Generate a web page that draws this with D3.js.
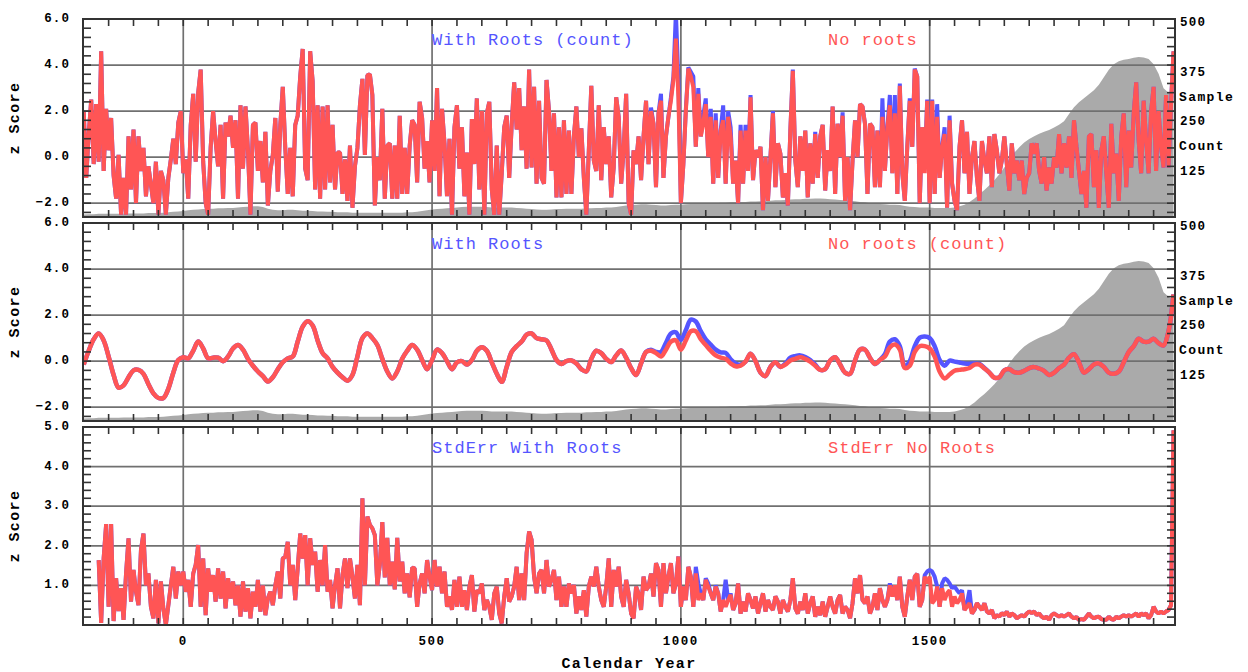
<!DOCTYPE html>
<html>
<head>
<meta charset="utf-8">
<script src="https://cdn.jsdelivr.net/npm/d3@7"></script>
<style>
  body { margin: 0; background: #fff; }
  svg text { font-family: "Liberation Mono", "DejaVu Sans Mono", monospace; }
</style>
</head>
<body>
<svg id="chart" width="1248" height="672"></svg>
<script>
// ---------------------------------------------------------------
// Data
// ---------------------------------------------------------------

// Tree-ring sample count (right axis), every 10 years from -200
const countStart = -200, countStep = 10;
const sampleCount = [
  6, 7, 7, 8, 8, 8, 8, 8, 9, 9,            // -200
  9, 9, 9, 10, 10, 10, 11, 12, 13, 14,     // -100
  15, 17, 18, 19, 20, 21, 21, 22, 22, 23,  // 0
  23, 24, 25, 26, 27, 27, 25, 21, 18, 17,  // 100
  17, 18, 18, 17, 16, 16, 15, 14, 14, 13,  // 200
  13, 12, 12, 12, 11, 11, 11, 11, 11, 11,  // 300
  11, 11, 11, 11, 11, 12, 12, 13, 15, 17,  // 400
  19, 20, 21, 22, 23, 24, 25, 26, 26, 26,  // 500
  26, 25, 24, 24, 24, 24, 24, 23, 22, 21,  // 600
  20, 19, 18, 18, 19, 20, 20, 21, 21, 21,  // 700
  21, 22, 22, 23, 23, 24, 24, 25, 27, 29,  // 800
  30, 31, 32, 32, 31, 30, 29, 29, 30, 31,  // 900
  31, 32, 33, 33, 34, 34, 35, 35, 36, 36,  // 1000
  37, 37, 38, 38, 39, 39, 40, 40, 41, 42,  // 1100
  42, 43, 44, 45, 45, 46, 46, 47, 47, 46,  // 1200
  45, 44, 43, 42, 41, 40, 38, 37, 35, 34,  // 1300
  33, 32, 31, 31, 30, 28, 26, 25, 24, 24,  // 1400
  24, 23, 23, 23, 23, 24, 27, 31, 38, 47,  // 1500
  58, 68, 80, 93, 108, 125, 145, 162, 176, 188,     // 1600
  197, 204, 210, 215, 220, 226, 233, 242, 260, 277, // 1700
  290, 300, 310, 320, 334, 353, 372, 386, 393, 397, // 1800
  399, 402, 404, 403, 399, 386, 362, 325, 314, 306  // 1900
];

// Annual z scores, sampled every 5 years from -200
const zStart = -200, zStep = 5;
const noRootsZ = [
  2.0, -0.9, 1.0, 2.5, -0.3, 2.3, -0.2, 4.6, -0.6, 2.1,          // -200
  0.3, 1.7, -0.8, -1.8, 0.1, -2.5, -0.9, -2.5, 0.9, -1.4,        // -150
  1.2, -2.0, 0.9, -0.6, 0.4, -1.7, -0.4, -1.2, -2.0, -0.2,       // -100
  -2.5, -0.6, -1.0, -2.5, -0.9, -0.1, 0.8, -0.3, 1.5, 2.0,       // -50
  -0.7, -0.1, -1.8, 1.4, 2.75, -0.2, 2.8, 3.8, -0.2, -2.0,       // 0
  -2.5, 0.4, 2.0, 0.7, -0.4, 1.4, -1.8, 1.5, 0.9, 1.8,           // 50
  0.4, 1.6, -1.8, 2.25, -0.5, 2.2, 0.3, -2.5, 1.4, 1.5,          // 100
  -0.6, 0.7, -1.1, 1.1, -2.1, -0.6, 0.1, 1.7, -1.5, 1.4,         // 150
  3.05, 0.4, -1.6, 0.4, -1.7, 1.4, 1.8, 3.5, 4.7, -0.5,          // 200
  -1.0, 4.6, 3.3, -1.4, 2.25, -1.8, 2.2, -1.4, 2.25, -1.1,       // 250
  1.4, -1.4, 0.2, 0.2, -1.6, -0.1, -1.9, 0.5, -2.2, -0.4,        // 300
  0.4, 2.25, 3.4, 0.1, 3.55, 3.6, 2.7, -2.1, 0.0, -1.0,          // 350
  2.1, -1.8, 0.5, 0.6, -1.8, 0.5, -1.8, 1.8, -1.6, 0.4,          // 400
  -1.6, 0.5, 1.6, 1.4, -1.1, 2.4, 1.7, -0.5, 0.7, -1.1,          // 450
  1.6, -0.6, 3.0, -1.7, 2.1, 0.6, -1.7, 0.8, -2.5, 1.3,          // 500
  2.25, -0.5, 1.3, -1.7, 0.2, -2.5, 1.65, -0.3, 2.55, -1.4,      // 550
  2.0, -2.5, 1.9, 2.4, -1.4, -2.5, 0.5, -2.5, -0.7, 1.3,         // 600
  1.8, -0.9, 1.4, 3.25, 1.2, 3.0, 0.3, 2.2, -0.5, 3.8,           // 650
  -0.45, 3.05, -1.15, 2.45, -0.9, -1.15, 3.35, 2.0, -0.6, 1.9,   // 700
  -1.75, 1.3, -1.75, 1.6, -1.6, 1.15, -1.6, 0.9, 2.2, 0.0,       // 750
  1.25, -0.9, -2.5, 0.3, 3.1, -0.15, -0.6, 2.25, -1.0, 1.3,      // 800
  -0.3, 0.9, -1.75, -0.45, 2.6, 1.75, -1.15, 0.3, 2.75, -2.0,    // 850
  -2.5, 0.3, -0.3, 0.9, -1.0, 0.9, 2.45, -0.3, 2.0, 1.45,        // 900
  -1.3, 1.9, 2.45, -0.9, 0.9, 1.75, 2.45, 3.35, 5.15, 2.6,       // 950
  -2.0, -0.3, 2.0, 3.85, 3.5, 3.05, 0.45, 2.75, 0.9, 1.45,       // 1000
  2.3, 0.0, 1.75, -1.15, 1.6, -0.9, 1.15, 1.6, -1.15, 1.75,      // 1050
  0.9, -1.15, -0.15, -2.0, 1.15, -1.15, 1.15, -0.6, 2.6, -1.0,   // 1100
  0.3, 0.0, 0.45, -2.3, 0.0, -1.9, 0.0, 1.9, -1.3, 0.6,          // 1150
  0.15, -1.75, -0.7, -2.1, 1.15, 3.75, -0.15, -1.3, 0.9, -0.6,   // 1200
  1.15, -1.75, 0.6, -1.15, 1.0, -0.9, 0.9, 1.4, -1.45, 0.3,      // 1250
  -0.6, 2.2, -1.6, 1.45, 0.0, 1.8, -1.9, 0.0, -2.3, -0.15,       // 1300
  1.6, 0.0, 2.3, 2.2, 1.45, -1.6, 1.45, 1.3, -1.3, 1.15,         // 1350
  -1.3, 1.75, -0.6, 1.3, 2.25, -0.7, 1.9, -1.6, 3.1, -0.7,       // 1400
  -1.9, 0.45, 2.45, 0.45, 3.8, 3.5, -2.0, 1.3, -0.7, 2.45,       // 1450
  -2.0, 2.45, -1.6, 1.75, -0.9, 0.45, 1.0, -2.2, 1.6, -1.15,     // 1500
  -1.9, -2.3, 0.45, 1.6, -0.7, 1.1, -1.6, 0.0, 0.7, -0.9,        // 1550
  -1.9, 0.7, -0.15, -0.7, 0.9, -1.3, 1.0, 0.3, -0.7, -0.15,      // 1600
  0.9, -0.3, -1.45, 0.6, -0.7, -0.15, -1.0, -0.15, -1.6, -0.9,   // 1650
  -0.7, 0.6, 0.15, 0.6, -0.6, -1.15, 0.0, -1.45, -0.45, -1.15,   // 1700
  0.0, -0.45, 1.0, -0.7, 0.6, -0.45, 0.9, -0.9, 1.6, 0.45,       // 1750
  -0.6, -1.6, -0.6, -2.2, 0.9, 1.0, -1.3, 0.3, -2.2, 0.3,        // 1800
  0.9, -0.7, -2.2, 1.45, -0.7, 0.15, -1.9, 0.9, 1.9, -1.3,       // 1850
  1.15, -0.45, 1.9, 3.25, 0.7, -0.7, 2.45, 0.7, -0.7, 2.0,       // 1900
  3.05, -0.6, 2.0, 0.45, -0.45, 2.7, -0.45, 2.3, 4.6             // 1950
];
const withRootsZ = [
  2.0, -0.9, 1.0, 2.5, -0.3, 2.3, -0.2, 4.6, -0.6, 2.1,          // -200
  0.3, 1.7, -0.8, -1.8, 0.1, -2.5, -0.9, -2.5, 0.9, -1.4,        // -150
  1.2, -2.0, 0.9, -0.6, 0.4, -1.7, -0.4, -1.2, -2.0, -0.2,       // -100
  -2.5, -0.6, -1.0, -2.5, -0.9, -0.1, 0.8, -0.3, 1.5, 2.0,       // -50
  -0.7, -0.1, -1.8, 1.4, 2.75, -0.2, 2.8, 3.8, -0.2, -2.0,       // 0
  -2.5, 0.4, 2.0, 0.7, -0.4, 1.4, -1.8, 1.5, 0.9, 1.8,           // 50
  0.4, 1.6, -1.8, 2.25, -0.5, 2.2, 0.3, -2.5, 1.4, 1.5,          // 100
  -0.6, 0.7, -1.1, 1.1, -2.1, -0.6, 0.1, 1.7, -1.5, 1.4,         // 150
  3.05, 0.4, -1.6, 0.4, -1.7, 1.4, 1.8, 3.5, 4.7, -0.5,          // 200
  -1.0, 4.6, 3.3, -1.4, 2.25, -1.8, 2.2, -1.4, 2.25, -1.1,       // 250
  1.4, -1.4, 0.2, 0.2, -1.6, -0.1, -1.9, 0.5, -2.2, -0.4,        // 300
  0.4, 2.25, 3.4, 0.1, 3.55, 3.6, 2.7, -2.1, 0.0, -1.0,          // 350
  2.1, -1.8, 0.5, 0.6, -1.8, 0.5, -1.8, 1.8, -1.6, 0.4,          // 400
  -1.6, 0.5, 1.6, 1.4, -1.1, 2.4, 1.7, -0.5, 0.7, -1.1,          // 450
  1.6, -0.6, 3.0, -1.7, 2.1, 0.6, -1.7, 0.8, -2.5, 1.3,          // 500
  2.25, -0.5, 1.3, -1.7, 0.2, -2.5, 1.65, -0.3, 2.55, -1.4,      // 550
  2.0, -2.5, 1.9, 2.4, -1.4, -2.5, 0.5, -2.5, -0.7, 1.3,         // 600
  1.8, -0.9, 1.4, 3.25, 1.2, 3.0, 0.3, 2.2, -0.5, 3.8,           // 650
  -0.45, 3.05, -1.15, 2.45, -0.9, -1.15, 3.35, 2.0, -0.6, 1.9,   // 700
  -1.75, 1.3, -1.75, 1.6, -1.6, 1.15, -1.6, 0.9, 2.2, 0.0,       // 750
  1.25, -0.9, -2.5, 0.3, 3.1, -0.15, -0.6, 2.25, -1.0, 1.3,      // 800
  -0.3, 0.9, -1.75, -0.45, 2.6, 1.75, -1.15, 0.3, 2.75, -2.0,    // 850
  -2.5, 0.3, -0.3, 0.9, -1.0, 0.9, 2.45, -0.3, 2.15, 1.45,       // 900
  -1.3, 1.9, 2.75, -0.9, 0.9, 1.75, 2.6, 3.5, 6.3, 3.3,          // 950
  -2.0, -0.3, 2.1, 3.9, 3.7, 3.5, 0.45, 3.0, 0.9, 1.8,           // 1000
  2.55, 0.0, 2.1, -1.15, 1.9, -0.9, 1.15, 2.25, -1.15, 2.0,      // 1050
  1.3, -1.15, -0.15, -2.0, 1.4, -1.15, 1.4, -0.6, 2.7, -1.0,     // 1100
  0.3, 0.0, 0.45, -2.3, 0.0, -1.9, 0.0, 2.0, -1.3, 0.6,          // 1150
  0.15, -1.75, -0.7, -2.1, 1.15, 3.8, -0.15, -1.3, 0.9, -0.6,    // 1200
  1.15, -1.75, 0.6, -1.15, 1.1, -0.9, 0.9, 1.4, -1.45, 0.3,      // 1250
  -0.6, 2.2, -1.6, 1.45, 0.0, 1.95, -1.9, 0.0, -2.3, -0.15,      // 1300
  1.6, 0.0, 2.3, 2.2, 1.45, -1.6, 1.45, 1.3, -1.3, 1.15,         // 1350
  -1.3, 2.55, -0.6, 1.3, 2.7, -0.7, 2.7, -1.6, 3.2, -0.7,        // 1400
  -1.9, 0.45, 2.55, 0.45, 3.85, 3.5, -2.0, 1.3, -0.4, 2.5,       // 1450
  -2.0, 2.5, -1.6, 2.3, -0.9, 0.45, 1.3, -2.2, 1.8, -1.15,       // 1500
  -1.9, -2.3, 0.45, 1.6, -0.7, 1.1, -1.6, 0.0, 0.7, -0.9,        // 1550
  -1.9, 0.7, -0.15, -0.7, 0.9, -1.3, 1.0, 0.3, -0.7, -0.15,      // 1600
  0.9, -0.3, -1.45, 0.6, -0.7, -0.15, -1.0, -0.15, -1.6, -0.9,   // 1650
  -0.7, 0.6, 0.15, 0.6, -0.6, -1.15, 0.0, -1.45, -0.45, -1.15,   // 1700
  0.0, -0.45, 1.0, -0.7, 0.6, -0.45, 0.9, -0.9, 1.6, 0.45,       // 1750
  -0.6, -1.6, -0.6, -2.2, 0.9, 1.0, -1.3, 0.3, -2.2, 0.3,        // 1800
  0.9, -0.7, -2.2, 1.45, -0.7, 0.15, -1.9, 0.9, 1.9, -1.3,       // 1850
  1.15, -0.45, 1.9, 3.25, 0.7, -0.7, 2.45, 0.7, -0.7, 2.0,       // 1900
  3.05, -0.6, 2.0, 0.45, -0.45, 2.7, -0.45, 2.3, 4.6             // 1950
];

// Low-pass filtered z scores, every 10 years from -200
const smoothStart = -200, smoothStep = 10;
const noRootsSmooth = [
  -0.15, 0.45, 0.95, 1.2, 0.9, 0.2, -0.6, -1.15, -1.05, -0.7,      // -200
  -0.4, -0.38, -0.55, -1.0, -1.4, -1.6, -1.6, -1.2, -0.5, 0.05,    // -100
  0.17, 0.12, 0.45, 0.85, 0.55, 0.12, 0.15, 0.15, 0.0, 0.2,        // 0
  0.55, 0.7, 0.5, 0.1, -0.2, -0.45, -0.65, -0.88, -0.7, -0.35,     // 100
  -0.05, 0.12, 0.2, 0.85, 1.5, 1.73, 1.55, 0.9, 0.35, 0.12,        // 200
  -0.25, -0.5, -0.7, -0.85, -0.6, 0.2, 1.0, 1.2, 1.0, 0.7,         // 300
  0.1, -0.45, -0.75, -0.45, 0.1, 0.45, 0.7, 0.5, 0.05, -0.35,      // 400
  0.05, 0.5, 0.35, 0.0, -0.35, -0.05, 0.0, -0.15, 0.05, 0.45,      // 500
  0.6, 0.45, -0.05, -0.55, -0.9, -0.25, 0.4, 0.65, 0.85, 1.15,     // 600
  1.2, 1.0, 0.95, 0.9, 0.5, 0.05, -0.12, 0.0, 0.03, -0.1,          // 700
  -0.35, -0.45, 0.1, 0.45, 0.35, 0.1, -0.04, 0.25, 0.46, 0.15,     // 800
  -0.3, -0.6, -0.1, 0.4, 0.45, 0.35, 0.2, 0.5, 0.85, 0.9,          // 900
  0.5, 0.9, 1.3, 1.3, 0.95, 0.7, 0.45, 0.25, 0.15, 0.1,            // 1000
  -0.1, -0.22, -0.2, -0.02, 0.32, 0.0, -0.5, -0.65, -0.25, -0.05,  // 1100
  -0.25, -0.15, 0.03, 0.1, 0.17, 0.1, -0.02, -0.2, -0.38, -0.35,   // 1200
  0.03, 0.17, -0.15, -0.5, -0.55, 0.03, 0.5, 0.5, 0.15, -0.12,     // 1300
  0.05, 0.2, 0.6, 0.72, 0.5, -0.3, -0.2, 0.4, 0.65, 0.65,          // 1400
  0.55, 0.2, -0.45, -0.75, -0.58, -0.42, -0.38, -0.35, -0.3, -0.15, // 1500
  -0.15, -0.32, -0.5, -0.72, -0.7, -0.4, -0.35, -0.48, -0.5, -0.42, // 1600
  -0.3, -0.26, -0.32, -0.42, -0.6, -0.5, -0.3, -0.15, 0.15, 0.3,   // 1700
  -0.05, -0.5, -0.35, -0.15, -0.1, -0.25, -0.5, -0.55, -0.45, -0.05, // 1800
  0.4, 0.65, 0.97, 0.85, 0.85, 0.97, 0.78, 0.68, 1.3, 2.9          // 1900
];
const withRootsSmooth = [
  -0.15, 0.45, 0.95, 1.2, 0.9, 0.2, -0.6, -1.15, -1.05, -0.7,      // -200
  -0.4, -0.38, -0.55, -1.0, -1.4, -1.6, -1.6, -1.2, -0.5, 0.05,    // -100
  0.17, 0.12, 0.45, 0.85, 0.55, 0.12, 0.15, 0.15, 0.0, 0.2,        // 0
  0.55, 0.7, 0.5, 0.1, -0.2, -0.45, -0.65, -0.88, -0.7, -0.35,     // 100
  -0.05, 0.12, 0.2, 0.85, 1.5, 1.73, 1.55, 0.9, 0.35, 0.12,        // 200
  -0.25, -0.5, -0.7, -0.85, -0.6, 0.2, 1.0, 1.2, 1.0, 0.7,         // 300
  0.1, -0.45, -0.75, -0.45, 0.1, 0.45, 0.7, 0.5, 0.05, -0.35,      // 400
  0.05, 0.5, 0.35, 0.0, -0.35, -0.05, 0.0, -0.15, 0.05, 0.45,      // 500
  0.6, 0.45, -0.05, -0.55, -0.9, -0.25, 0.4, 0.65, 0.85, 1.15,     // 600
  1.2, 1.0, 0.95, 0.9, 0.5, 0.05, -0.12, 0.0, 0.03, -0.1,          // 700
  -0.35, -0.45, 0.1, 0.45, 0.35, 0.1, -0.04, 0.25, 0.46, 0.15,     // 800
  -0.3, -0.6, -0.1, 0.4, 0.5, 0.4, 0.4, 0.8, 1.2, 1.25,            // 900
  0.92, 1.35, 1.8, 1.72, 1.3, 0.95, 0.72, 0.5, 0.38, 0.36,         // 1000
  0.08, -0.1, -0.15, -0.02, 0.32, 0.0, -0.5, -0.65, -0.25, -0.05,  // 1100
  -0.25, -0.1, 0.15, 0.22, 0.25, 0.18, 0.05, -0.15, -0.38, -0.35,  // 1200
  0.03, 0.17, -0.15, -0.5, -0.55, 0.03, 0.5, 0.5, 0.15, -0.12,     // 1300
  0.05, 0.3, 0.85, 0.95, 0.65, -0.25, 0.0, 0.65, 1.02, 1.07,       // 1400
  1.0, 0.65, 0.05, -0.2, 0.02, -0.02, -0.06, -0.1, -0.11, -0.1,    // 1500
  -0.12, -0.3, -0.5, -0.72, -0.7, -0.4, -0.35, -0.48, -0.5, -0.42, // 1600
  -0.3, -0.26, -0.32, -0.42, -0.6, -0.5, -0.3, -0.15, 0.15, 0.3,   // 1700
  -0.05, -0.5, -0.35, -0.15, -0.1, -0.25, -0.5, -0.55, -0.45, -0.05, // 1800
  0.4, 0.65, 0.97, 0.85, 0.85, 0.97, 0.78, 0.68, 1.3, 2.9          // 1900
];

// Standard error of the annual chronology, every 5 years from -170
const seStart = -170, seStep = 5;
const stderrNoRoots = [
  1.64, 0.05, 1.68, 2.55,                                          // -170
  0.46, 2.55, 0.1, 1.18, 0.35, 0.93, 0.13, 1.3, 2.19, 0.59,        // -150
  1.39, 0.84, 0.5, 1.9, 2.31, 1.0, 1.3, 0.46, 0.17, 1.14,          // -100
  0.04, 1.1, 0.42, 0.0, 0.5, 1.0, 1.47, 0.67, 1.35, 1.0,           // -50
  1.35, 0.84, 1.14, 0.46, 1.3, 1.52, 2.02, 0.46, 1.68, 0.25,       // 0
  1.43, 0.84, 1.26, 0.59, 1.43, 0.67, 1.35, 0.42, 1.18, 0.67,      // 50
  1.1, 0.5, 1.0, 0.21, 1.1, 0.34, 0.93, 0.17, 0.84, 0.46,          // 100
  1.14, 0.34, 1.0, 0.25, 0.67, 0.84, 0.5, 1.0, 1.35, 0.67,         // 150
  1.68, 1.72, 2.1, 1.0, 1.52, 0.63, 1.43, 2.31, 1.68, 2.27,        // 200
  1.0, 2.19, 1.52, 1.85, 0.84, 1.64, 1.0, 2.02, 0.84, 1.14,        // 250
  0.42, 1.0, 1.43, 0.42, 1.26, 1.68, 0.93, 1.68, 1.22, 0.67,       // 300
  1.52, 0.5, 3.2, 1.0, 2.74, 2.53, 2.44, 2.27, 1.0, 1.52,          // 350
  2.6, 1.2, 2.2, 1.0, 1.6, 0.9, 2.2, 1.1, 1.6, 0.8,                // 400
  1.3, 0.7, 1.45, 1.43, 0.46, 1.05, 1.3, 0.8, 1.64, 1.22,          // 450
  0.88, 1.64, 0.97, 1.47, 0.8, 1.35, 0.46, 0.72, 0.38, 1.14,       // 500
  0.46, 1.22, 0.46, 0.88, 0.38, 0.97, 1.26, 0.34, 0.88, 0.8,       // 550
  1.05, 0.38, 0.63, 0.46, 0.13, 0.8, 0.97, 0.29, 0.04, 0.72,       // 600
  1.18, 0.59, 0.72, 0.97, 1.47, 0.63, 1.3, 0.63, 1.81, 2.36,       // 650
  2.15, 1.22, 0.8, 1.3, 1.39, 0.8, 1.64, 0.97, 1.14, 1.39,         // 700
  0.63, 1.22, 0.46, 0.97, 0.46, 1.05, 0.8, 1.01, 0.29, 0.72,       // 750
  0.38, 0.88, 0.21, 0.97, 1.22, 0.97, 1.47, 0.97, 0.63, 0.46,      // 800
  0.97, 1.68, 0.46, 1.39, 0.97, 1.47, 0.72, 0.46, 1.14, 0.8,       // 850
  0.29, 0.17, 0.97, 0.8, 0.38, 1.22, 0.88, 0.97, 1.3, 0.72,        // 900
  1.56, 1.39, 0.46, 1.56, 0.8, 1.22, 1.56, 0.8, 1.05, 1.73,        // 950
  0.46, 0.97, 0.63, 1.47, 1.22, 0.46, 1.3, 0.63, 0.8, 0.63,        // 1000
  1.14, 0.97, 0.8, 0.63, 0.97, 0.8, 0.34, 0.63, 0.46, 0.63,        // 1050
  0.76, 0.38, 0.55, 1.05, 0.29, 0.59, 0.34, 0.8, 0.63, 0.42,       // 1100
  0.72, 0.29, 0.55, 0.8, 0.34, 0.63, 0.46, 0.38, 0.72, 0.59,       // 1150
  0.29, 0.63, 0.46, 0.34, 0.63, 1.18, 0.42, 0.29, 0.59, 0.38,      // 1200
  0.8, 0.29, 0.55, 0.72, 0.21, 0.46, 0.25, 0.59, 0.21, 0.46,       // 1250
  0.72, 0.46, 0.29, 0.63, 0.76, 0.29, 0.46, 0.38, 0.17, 0.55,      // 1300
  1.18, 0.8, 1.26, 0.63, 0.55, 0.72, 0.29, 0.46, 0.8, 0.38,        // 1350
  0.93, 0.63, 0.46, 0.63, 1.0, 0.72, 1.0, 0.63, 1.22, 0.46,        // 1400
  0.21, 0.72, 1.14, 0.63, 1.22, 1.29, 0.46, 0.63, 1.22, 1.05,      // 1450
  1.22, 0.55, 0.63, 0.97, 0.46, 0.93, 0.63, 0.8, 0.88, 0.46,       // 1500
  0.72, 0.55, 0.63, 0.8, 0.38, 0.46, 0.55, 0.29, 0.38, 0.55,       // 1550
  0.46, 0.38, 0.55, 0.34, 0.29, 0.38, 0.17, 0.25, 0.21, 0.3,       // 1600
  0.25, 0.34, 0.21, 0.29, 0.25, 0.17, 0.21, 0.25, 0.21, 0.29,      // 1650
  0.34, 0.3, 0.34, 0.25, 0.29, 0.21, 0.17, 0.21, 0.13, 0.25,       // 1700
  0.29, 0.25, 0.21, 0.25, 0.21, 0.25, 0.29, 0.21, 0.17, 0.2,       // 1750
  0.13, 0.15, 0.13, 0.21, 0.29, 0.21, 0.17, 0.2, 0.21, 0.15,       // 1800
  0.13, 0.13, 0.21, 0.15, 0.13, 0.21, 0.17, 0.21, 0.25, 0.21,      // 1850
  0.25, 0.21, 0.25, 0.29, 0.21, 0.29, 0.25, 0.29, 0.17, 0.25,      // 1900
  0.46, 0.34, 0.29, 0.34, 0.29, 0.34, 0.38, 0.5, 4.92              // 1950
];
const stderrWithRoots = [
  1.64, 0.05, 1.68, 2.55,                                          // -170
  0.46, 2.55, 0.1, 1.18, 0.35, 0.93, 0.13, 1.3, 2.19, 0.59,        // -150
  1.39, 0.84, 0.5, 1.9, 2.31, 1.0, 1.3, 0.46, 0.17, 1.14,          // -100
  0.04, 1.1, 0.42, 0.0, 0.5, 1.0, 1.47, 0.67, 1.35, 1.0,           // -50
  1.35, 0.84, 1.14, 0.46, 1.3, 1.52, 2.02, 0.46, 1.68, 0.25,       // 0
  1.43, 0.84, 1.26, 0.59, 1.43, 0.67, 1.35, 0.42, 1.18, 0.67,      // 50
  1.1, 0.5, 1.0, 0.21, 1.1, 0.34, 0.93, 0.17, 0.84, 0.46,          // 100
  1.14, 0.34, 1.0, 0.25, 0.67, 0.84, 0.5, 1.0, 1.35, 0.67,         // 150
  1.68, 1.72, 2.1, 1.0, 1.52, 0.63, 1.43, 2.31, 1.68, 2.27,        // 200
  1.0, 2.19, 1.52, 1.85, 0.84, 1.64, 1.0, 2.02, 0.84, 1.14,        // 250
  0.42, 1.0, 1.43, 0.42, 1.26, 1.68, 0.93, 1.68, 1.22, 0.67,       // 300
  1.52, 0.5, 3.2, 1.0, 2.74, 2.53, 2.44, 2.27, 1.0, 1.52,          // 350
  2.6, 1.2, 2.2, 1.0, 1.6, 0.9, 2.2, 1.1, 1.6, 0.8,                // 400
  1.3, 0.7, 1.45, 1.43, 0.46, 1.05, 1.3, 0.8, 1.64, 1.22,          // 450
  0.88, 1.64, 0.97, 1.47, 0.8, 1.35, 0.46, 0.72, 0.38, 1.14,       // 500
  0.46, 1.22, 0.46, 0.88, 0.38, 0.97, 1.26, 0.34, 0.88, 0.8,       // 550
  1.05, 0.38, 0.63, 0.46, 0.13, 0.8, 0.97, 0.29, 0.04, 0.72,       // 600
  1.18, 0.59, 0.72, 0.97, 1.47, 0.63, 1.3, 0.63, 1.81, 2.36,       // 650
  2.15, 1.22, 0.8, 1.3, 1.39, 0.8, 1.64, 0.97, 1.14, 1.39,         // 700
  0.63, 1.22, 0.46, 0.97, 0.46, 1.05, 0.8, 1.01, 0.29, 0.72,       // 750
  0.38, 0.88, 0.21, 0.97, 1.22, 0.97, 1.47, 0.97, 0.63, 0.46,      // 800
  0.97, 1.68, 0.46, 1.39, 0.97, 1.47, 0.72, 0.46, 1.14, 0.8,       // 850
  0.29, 0.17, 0.97, 0.8, 0.38, 1.22, 0.88, 0.97, 1.3, 0.72,        // 900
  1.56, 1.39, 0.46, 1.56, 0.8, 1.22, 1.56, 0.8, 1.05, 1.73,        // 950
  0.46, 0.97, 0.63, 1.47, 1.22, 0.46, 1.47, 1.05, 0.8, 0.63,       // 1000
  1.18, 1.05, 0.8, 0.63, 1.0, 0.8, 0.34, 0.63, 1.14, 0.63,         // 1050
  0.8, 0.38, 0.55, 1.05, 0.29, 0.59, 0.34, 0.8, 0.63, 0.42,        // 1100
  0.72, 0.29, 0.55, 0.8, 0.34, 0.63, 0.46, 0.38, 0.72, 0.59,       // 1150
  0.29, 0.63, 0.46, 0.34, 0.63, 1.18, 0.42, 0.29, 0.59, 0.38,      // 1200
  0.8, 0.29, 0.55, 0.72, 0.21, 0.46, 0.25, 0.59, 0.21, 0.46,       // 1250
  0.72, 0.46, 0.29, 0.63, 0.76, 0.29, 0.46, 0.38, 0.17, 0.55,      // 1300
  1.18, 0.8, 1.26, 0.63, 0.55, 0.72, 0.29, 0.46, 0.8, 0.38,        // 1350
  0.93, 0.63, 0.46, 0.63, 1.05, 0.72, 1.0, 0.63, 1.22, 0.46,       // 1400
  0.21, 0.72, 1.14, 0.63, 1.22, 1.29, 0.46, 0.63, 1.26, 1.35,      // 1450
  1.39, 1.35, 1.22, 0.97, 0.46, 1.05, 1.18, 1.14, 1.05, 0.93,      // 1500
  0.97, 0.88, 0.8, 0.88, 0.38, 0.55, 0.88, 0.29, 0.38, 0.55,       // 1550
  0.46, 0.38, 0.55, 0.34, 0.29, 0.38, 0.17, 0.25, 0.21, 0.3,       // 1600
  0.25, 0.34, 0.21, 0.29, 0.25, 0.17, 0.21, 0.25, 0.21, 0.29,      // 1650
  0.34, 0.3, 0.34, 0.25, 0.29, 0.21, 0.17, 0.21, 0.13, 0.25,       // 1700
  0.29, 0.25, 0.21, 0.25, 0.21, 0.25, 0.29, 0.21, 0.17, 0.2,       // 1750
  0.13, 0.15, 0.13, 0.21, 0.29, 0.21, 0.17, 0.2, 0.21, 0.15,       // 1800
  0.13, 0.13, 0.21, 0.15, 0.13, 0.21, 0.17, 0.21, 0.25, 0.21,      // 1850
  0.25, 0.21, 0.25, 0.29, 0.21, 0.29, 0.25, 0.29, 0.17, 0.25,      // 1900
  0.46, 0.34, 0.29, 0.34, 0.29, 0.34, 0.38, 0.5, 4.92              // 1950
];

// Axis labelling
const yearLabels = [0, 500, 1000, 1500];
const zLabels = [6, 4, 2, 0, -2];
const seLabels = [5, 4, 3, 2, 1];
const countLabels = [500, 375, 250, 125];

// ---------------------------------------------------------------
// Drawing
// ---------------------------------------------------------------
const toSeries = (start, step, values) =>
  values.map((v, i) => ({ year: start + i * step, value: v }));

const BLUE = "#5555ff", RED = "#ff5555", GRAY = "#aaaaaa";
const FRAME = "#333333", GRID = "#707070";

const svg = d3.select("#chart");
svg.append("rect").attr("width", 1248).attr("height", 672).attr("fill", "#fff");

const LEFT = 83, RIGHT = 1175, PH = 198;
const x = d3.scaleLinear().domain([-201.5, 1993]).range([LEFT, RIGHT]);
const tickYears = d3.range(-150, 1993, 50);

const panels = [
  {
    id: "p1", top: 19, domain: [-2.6, 6], labels: zLabels, minor: 0.4, fmt: d3.format(".1f"),
    count: toSeries(countStart, countStep, sampleCount),
    blue: toSeries(zStart, zStep, withRootsZ), red: toSeries(zStart, zStep, noRootsZ),
    titles: ["With Roots (count)", "No roots"], smooth: false
  },
  {
    id: "p2", top: 223, domain: [-2.6, 6], labels: zLabels, minor: 0.4, fmt: d3.format(".1f"),
    count: toSeries(countStart, countStep, sampleCount),
    blue: toSeries(smoothStart, smoothStep, withRootsSmooth), red: toSeries(smoothStart, smoothStep, noRootsSmooth),
    titles: ["With Roots", "No roots (count)"], smooth: true
  },
  {
    id: "p3", top: 427, domain: [0, 5], labels: seLabels, minor: 0.2, fmt: d3.format(".1f"),
    count: null,
    blue: toSeries(seStart, seStep, stderrWithRoots), red: toSeries(seStart, seStep, stderrNoRoots),
    titles: ["StdErr With Roots", "StdErr No Roots"], smooth: false
  }
];

panels.forEach(p => {
  const top = p.top, bottom = p.top + PH;
  const y = d3.scaleLinear().domain(p.domain).range([bottom, top]);
  const g = svg.append("g");

  g.append("clipPath").attr("id", "clip-" + p.id)
    .append("rect").attr("x", LEFT).attr("y", top).attr("width", RIGHT - LEFT).attr("height", PH);
  const plot = g.append("g").attr("clip-path", `url(#clip-${p.id})`);

  // sample count silhouette
  let c = null;
  if (p.count) {
    c = d3.scaleLinear().domain([0, 500]).range([bottom, top]);
    plot.append("path").datum(p.count)
      .attr("fill", GRAY)
      .attr("d", d3.area().x(d => x(d.year)).y0(bottom).y1(d => c(d.value)));
  }

  // grid
  plot.selectAll(null).data(p.labels.filter(v => y(v) > top + 1))
    .join("line")
    .attr("x1", LEFT).attr("x2", RIGHT)
    .attr("y1", d => y(d)).attr("y2", d => y(d))
    .attr("stroke", GRID).attr("stroke-width", 1.7);
  plot.selectAll(null).data(yearLabels)
    .join("line")
    .attr("x1", d => x(d)).attr("x2", d => x(d))
    .attr("y1", top).attr("y2", bottom)
    .attr("stroke", GRID).attr("stroke-width", 1.7);

  // series
  const line = d3.line().x(d => x(d.year)).y(d => y(d.value));
  if (p.smooth) line.curve(d3.curveCatmullRom.alpha(0.5));
  const sw = p.smooth ? 4.5 : 4;
  plot.append("path").datum(p.blue).attr("d", line)
    .attr("fill", "none").attr("stroke", BLUE).attr("stroke-width", sw)
    .attr("stroke-linejoin", p.smooth ? "round" : "bevel");
  plot.append("path").datum(p.red).attr("d", line)
    .attr("fill", "none").attr("stroke", RED).attr("stroke-width", sw)
    .attr("stroke-linejoin", p.smooth ? "round" : "bevel");

  // frame
  g.append("rect").attr("x", LEFT).attr("y", top).attr("width", RIGHT - LEFT).attr("height", PH)
    .attr("fill", "none").attr("stroke", FRAME).attr("stroke-width", 2);

  // minor ticks on left/right edges
  const n = Math.round((p.domain[1] - p.domain[0]) / p.minor);
  const yTicks = d3.range(1, n + 1).map(i => p.domain[1] - i * p.minor).filter(v => v > p.domain[0] + 1e-6);
  g.selectAll(null).data(yTicks).join("line")
    .attr("x1", LEFT).attr("x2", LEFT + 8).attr("y1", d => y(d)).attr("y2", d => y(d))
    .attr("stroke", FRAME).attr("stroke-width", 1.6);
  g.selectAll(null).data(yTicks).join("line")
    .attr("x1", RIGHT - 8).attr("x2", RIGHT).attr("y1", d => y(d)).attr("y2", d => y(d))
    .attr("stroke", FRAME).attr("stroke-width", 1.6);

  // year ticks on top/bottom edges
  g.selectAll(null).data(tickYears).join("line")
    .attr("x1", d => x(d)).attr("x2", d => x(d)).attr("y1", top).attr("y2", top + 7)
    .attr("stroke", FRAME).attr("stroke-width", 1.6);
  g.selectAll(null).data(tickYears).join("line")
    .attr("x1", d => x(d)).attr("x2", d => x(d)).attr("y1", bottom - 7).attr("y2", bottom)
    .attr("stroke", FRAME).attr("stroke-width", 1.6);

  // left axis labels
  g.selectAll(null).data(p.labels).join("text")
    .attr("x", 70).attr("y", d => y(d))
    .attr("text-anchor", "end").attr("dominant-baseline", "central")
    .attr("font-size", 12.5).attr("font-weight", "bold").attr("letter-spacing", 1.1)
    .attr("fill", "#000")
    .text(d => p.fmt(d).replace("-", "\u2212"));

  g.append("text")
    .attr("transform", `translate(15,${top + PH / 2}) rotate(-90)`)
    .attr("text-anchor", "middle").attr("dominant-baseline", "central")
    .attr("font-size", 15).attr("font-weight", "bold").attr("letter-spacing", 1.4)
    .attr("fill", "#000")
    .text("z Score");

  // right (count) axis labels
  if (c) {
    g.selectAll(null).data(countLabels).join("text")
      .attr("x", 1180).attr("y", d => c(d) + 4)
      .attr("dominant-baseline", "central")
      .attr("font-size", 12.5).attr("font-weight", "bold").attr("letter-spacing", 1.2)
      .attr("fill", "#000")
      .text(d => d);
    g.append("text").attr("x", 1179).attr("y", c(312.5) + 4)
      .attr("dominant-baseline", "central")
      .attr("font-size", 13).attr("font-weight", "bold").attr("letter-spacing", 1.4)
      .attr("fill", "#000").text("Sample");
    g.append("text").attr("x", 1179).attr("y", c(187.5) + 4)
      .attr("dominant-baseline", "central")
      .attr("font-size", 13).attr("font-weight", "bold").attr("letter-spacing", 1.4)
      .attr("fill", "#000").text("Count");
  }

  // series titles
  g.append("text").attr("x", x(500)).attr("y", top + 26)
    .attr("font-size", 17).attr("letter-spacing", 1.0).attr("fill", BLUE)
    .text(p.titles[0]);
  g.append("text").attr("x", 828).attr("y", top + 26)
    .attr("font-size", 17).attr("letter-spacing", 1.0).attr("fill", RED)
    .text(p.titles[1]);
});

// bottom year labels
svg.selectAll(null).data(yearLabels).join("text")
  .attr("x", d => x(d)).attr("y", 642)
  .attr("text-anchor", "middle").attr("dominant-baseline", "central")
  .attr("font-size", 12.5).attr("font-weight", "bold").attr("letter-spacing", 1.5)
  .attr("fill", "#000")
  .text(d => d);

svg.append("text")
  .attr("x", (LEFT + RIGHT) / 2).attr("y", 668)
  .attr("text-anchor", "middle")
  .attr("font-size", 15).attr("font-weight", "bold").attr("letter-spacing", 1.4)
  .attr("fill", "#000")
  .text("Calendar Year");
</script>
</body>
</html>
